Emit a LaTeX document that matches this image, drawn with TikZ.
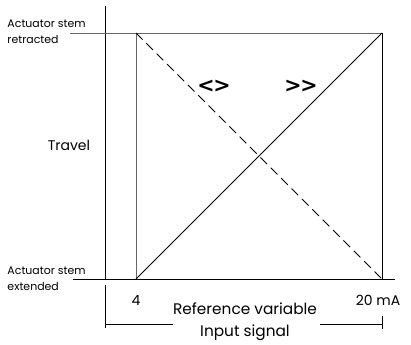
\documentclass[tikz,border=0pt]{standalone}
\usepackage{fontspec}
\setmainfont{Poppins}
\newfontfamily\symfont{DejaVu Sans}
\begin{document}
\begin{tikzpicture}[x=0.75pt,y=-0.75pt,line width=0.75pt,
  axisline/.style={black},
  gridline/.style={gray!80!black},
  curvesolid/.style={black},
  curvedashed/.style={black,dash pattern=on 7pt off 4pt},
  small/.style={font=\fontsize{8.2}{12}\selectfont,inner sep=0pt,align=left},
  big/.style={font=\fontsize{10.5}{12}\selectfont,inner sep=0pt},
  bigger/.style={font=\fontsize{11.5}{12}\selectfont,inner sep=0pt},
  sym/.style={font=\symfont\bfseries\fontsize{15.5}{16}\selectfont,inner sep=0pt}]
\useasboundingbox (0,0) rectangle (411,344);
% coordinates
\coordinate (vtop) at (105,6);
\coordinate (vbot) at (105,279);
\coordinate (tl) at (70,33);
\coordinate (A) at (136,33);
\coordinate (B) at (382,33);
\coordinate (bl) at (73,279);
\coordinate (C) at (136,279);
\coordinate (D) at (382,279);
\coordinate (br) at (395,279);
\coordinate (lb1) at (105,285);
\coordinate (lb2) at (105,328);
\coordinate (lb3) at (105,324);
\coordinate (lb4) at (173,324);
\coordinate (rb1) at (320,324);
\coordinate (rb2) at (382,324);
\coordinate (rb3) at (382,316);
\coordinate (rb4) at (382,329);
% axes and frame
\draw[axisline] (vtop) -- (vbot);
\draw[gridline] (tl) -- (B);
\draw[axisline] (bl) -- (br);
\draw[gridline] (A) -- (C);
\draw[axisline] (B) -- (D);
% characteristics
\draw[curvesolid] (C) -- (B);
\draw[curvedashed] (A) -- (D);
% brackets
\draw[axisline] (lb1) -- (lb2);
\draw[axisline] (lb3) -- (lb4);
\draw[axisline] (rb1) -- (rb2);
\draw[axisline] (rb3) -- (rb4);
% labels
\node[small,anchor=north west] (ret) at (7,19) {Actuator stem\\retracted};
\node[small,anchor=north west] (ext) at (7,266) {Actuator stem\\extended};
\node[big,anchor=base] (travel) at (69,150) {Travel};
\node[sym,anchor=center] (s1) at (214,86) {\symbol{"3C}\kern-1pt\symbol{"3E}};
\node[sym,anchor=center] (s2) at (301,86) {\symbol{"3E}\kern-1pt\symbol{"3E}};
\node[big,anchor=base] (four) at (136,305) {4};
\node[big,anchor=base] (twenty) at (378,305) {20 mA};
\node[bigger,anchor=base] (ref) at (245,314) {Reference variable};
\node[bigger,anchor=base] (inp) at (245,336) {Input signal};
\end{tikzpicture}
\end{document}
